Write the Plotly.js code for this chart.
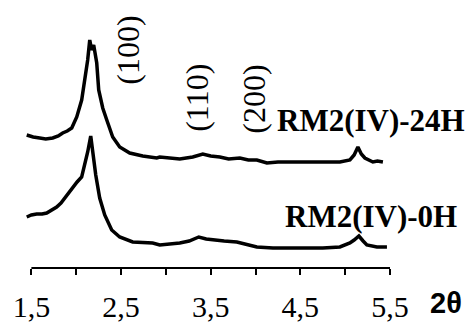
<!DOCTYPE html>
<html>
<head>
<meta charset="utf-8">
<script src="https://cdn.plot.ly/plotly-3.0.1.min.js"></script>
<style>html,body{margin:0;padding:0;background:#fff;}#chart{width:472px;height:325px;}</style>
</head>
<body>
<div id="chart"></div>
<script>
// 2θ positions and offset intensities (a.u.)
const theta24H = [1.448,1.52,1.593,1.66,1.738,1.80,1.849,1.90,1.950,2.006,2.061,2.095,2.128,2.151,2.173,2.195,2.229,2.251,2.296,2.341,2.407,2.485,2.597,2.742,2.898,2.932,3.05,3.155,3.30,3.412,3.50,3.602,3.70,3.825,3.92,4.015,4.127,4.25,4.384,4.50,4.640,4.80,4.941,5.053,5.10,5.142,5.18,5.220,5.309,5.36,5.421];
const int24H   = [133,131,130,129,130,132,135,137,140,151,168,188,208,228,218,223,205,178,160,148,131,121,115,112,110,111,110,109,111,114,112,111,109,110,108,108,105,106,106,106,106,106,106,108,113,121,114,110,106,107,106];
const theta0H  = [1.448,1.50,1.559,1.62,1.671,1.73,1.782,1.83,1.872,1.92,1.961,2.01,2.061,2.095,2.128,2.162,2.184,2.218,2.262,2.318,2.396,2.485,2.630,2.75,2.853,2.932,3.05,3.155,3.26,3.367,3.45,3.523,3.65,3.791,3.90,4.015,4.194,4.35,4.573,4.75,4.941,5.053,5.10,5.153,5.20,5.242,5.354,5.466];
const int0H    = [51,53,54,54,55,58,61,65,70,75,81,86,91,103,116,132,116,93,70,53,38,31,26,25,25,23,24,25,27,31,29,28,27,26,24,21,20,20,20,20,21,25,28,32,27,23,21,21];

const tickVals = [1.5,2.0,2.5,3.0,3.5,4.0,4.5,5.0,5.5];
const tickText = ['1,5','','2,5','','3,5','','4,5','','5,5'];

const peakLabels = ['(100)','(110)','(200)'];
const peakX = [2.575,3.345,3.98];
const peakY = [218,170,169];

const sampleNames = ['RM2(IV)-24H','RM2(IV)-0H'];
const sampleX = [5.29,5.29];
const sampleY = [148,52];

const serif = 'Times New Roman, Liberation Serif, serif';

const traces = [
  {x: theta24H, y: int24H, mode:'lines', line:{color:'#000', width:3.5}, hoverinfo:'skip'},
  {x: theta0H, y: int0H, mode:'lines', line:{color:'#000', width:3.5}, hoverinfo:'skip'}
];

const annotations = [];
peakLabels.forEach((t,i)=>annotations.push({
  x: peakX[i], y: peakY[i], xref:'x', yref:'y', text:t, showarrow:false,
  textangle:-90, font:{family:serif, size:32, color:'#000'}, xanchor:'center', yanchor:'middle'
}));
sampleNames.forEach((t,i)=>annotations.push({
  x: sampleX[i], y: sampleY[i], xref:'x', yref:'y', text:'<b>'+t+'</b>', showarrow:false,
  font:{family:serif, size:31, color:'#000'}, xanchor:'center', yanchor:'middle'
}));
annotations.push({
  x: 1.155, y: -0.141, xref:'paper', yref:'paper', text:'<b>2θ</b>', showarrow:false,
  font:{family:'Arial, Liberation Sans, sans-serif', size:29, color:'#000'}, xanchor:'center', yanchor:'middle'
});

const layout = {
  width:472, height:325,
  margin:{l:26, r:82, t:20, b:57},
  paper_bgcolor:'#fff', plot_bgcolor:'#fff',
  showlegend:false,
  xaxis:{
    range:[1.44,5.5], showgrid:false, zeroline:false, showline:false,
    tickmode:'array', tickvals:tickVals, ticktext:tickText,
    ticks:'outside', ticklen:6, tickwidth:2, tickcolor:'#000',
    ticklabelstandoff:6,
    tickfont:{family:serif, size:30, color:'#000'}
  },
  yaxis:{range:[0,248], visible:false, showgrid:false, zeroline:false},
  shapes:[{type:'line', xref:'x', yref:'paper', x0:1.5, x1:5.5, y0:0, y1:0, line:{color:'#000', width:2}}],
  annotations: annotations
};

Plotly.newPlot('chart', traces, layout, {staticPlot:true, displayModeBar:false});
</script>
</body>
</html>
